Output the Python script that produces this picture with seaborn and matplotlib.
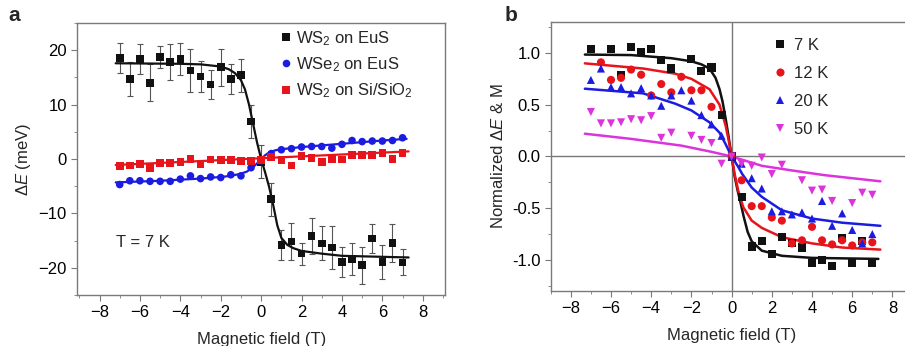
import numpy as np
import pandas as pd
import matplotlib
matplotlib.use("Agg")
import matplotlib.pyplot as plt
import seaborn as sns
from matplotlib.ticker import MultipleLocator

# ---- panel a data ----
field_a = [-7, -6.5, -6, -5.5, -5, -4.5, -4, -3.5, -3, -2.5, -2, -1.5, -1, -0.5, 0,
           0.5, 1, 1.5, 2, 2.5, 3, 3.5, 4, 4.5, 5, 5.5, 6, 6.5, 7]
ws2_eus = [18.6, 14.7, 18.4, 14.0, 18.8, 17.8, 18.4, 16.3, 15.2, 13.7, 16.9, 14.7, 15.4, 6.9, -0.5,
           -7.4, -15.8, -15.2, -17.4, -14.1, -15.5, -16.3, -18.9, -18.4, -19.5, -14.6, -18.9, -15.4, -19.0]
ws2_eus_err = [2.8, 3.2, 2.8, 3.4, 2.0, 3.3, 3.0, 3.9, 2.9, 2.7, 3.4, 2.7, 3.0, 3.1, 3.0,
               3.0, 2.8, 3.4, 2.0, 3.3, 3.1, 3.9, 2.8, 3.0, 3.4, 2.7, 3.1, 3.5, 2.4]
wse2_eus = [-4.7, -4.0, -4.0, -4.1, -4.1, -4.1, -3.7, -3.1, -3.6, -3.3, -3.4, -2.9, -3.1, -1.6, -0.3,
            1.0, 1.7, 1.9, 2.2, 2.3, 2.3, 2.0, 2.7, 3.4, 3.2, 3.3, 3.3, 3.4, 3.9]
ws2_sio2 = [-1.3, -1.2, -0.9, -1.6, -0.7, -0.7, -0.5, 0.05, -0.9, -0.1, -0.2, -0.2, -0.4, -0.4, -0.2,
            0.4, -0.2, -1.2, 0.55, 0.2, -0.6, 0.05, -0.1, 0.7, 0.7, 0.7, 1.1, 0.05, 1.1]

# fit curves
fit_ws2_x = [-7.2, -4, -3, -2, -1.6, -1.3, -1.0, -0.8, -0.6, -0.4, -0.2, 0,
             0.2, 0.4, 0.6, 0.8, 1.0, 1.3, 1.6, 2, 3, 4, 7.3]
fit_ws2_y = [17.6, 17.5, 17.4, 17.0, 16.5, 15.8, 14.5, 12.8, 10.0, 6.5, 3.0, 0,
             -2.5, -5.2, -8.5, -12.2, -14.5, -15.8, -16.4, -16.9, -17.4, -17.8, -18.1]
fit_wse2_x = [-7.2, -5, -3, -2, -1.5, -1, -0.7, -0.4, -0.2, 0, 0.2, 0.4, 0.7, 1, 1.5, 2, 3, 4, 5, 6, 7.2]
fit_wse2_y = [-4.3, -4.0, -3.6, -3.3, -3.1, -2.7, -2.3, -1.5, -0.8, 0, 0.7, 1.2, 1.6, 1.8, 2.0, 2.2, 2.5, 2.8, 3.1, 3.4, 3.7]
fit_sio2_x = [-7.2, 7.3]
fit_sio2_y = [-1.1, 1.4]

# ---- panel b data ----
x_7k = [-7, -6, -5.5, -5, -4.5, -4, -3.5, -3, -2, -1.5, -1, -0.5, 0,
        0.5, 1, 1.5, 2, 2.5, 3, 3.5, 4, 4.5, 5, 5.5, 6, 6.5, 7]
y_7k = [1.035, 1.035, 0.79, 1.06, 1.01, 1.035, 0.93, 0.85, 0.945, 0.83, 0.86, 0.40, 0,
        -0.39, -0.87, -0.82, -0.94, -0.78, -0.84, -0.88, -1.03, -1.0, -1.06, -0.79, -1.03, -0.82, -1.03]
x_12k = [-6.5, -6, -5.5, -5, -4.5, -4, -3.5, -3, -2.5, -2, -1.5, -1, 0,
         0.5, 1, 1.5, 2, 2.5, 3, 3.5, 4, 4.5, 5, 5.5, 6, 6.5, 7]
y_12k = [0.91, 0.74, 0.76, 0.84, 0.79, 0.59, 0.70, 0.62, 0.77, 0.64, 0.64, 0.48, 0,
         -0.23, -0.48, -0.48, -0.59, -0.62, -0.84, -0.81, -0.68, -0.81, -0.85, -0.81, -0.86, -0.83, -0.83]
x_20k = [-7, -6.5, -6, -5.5, -5, -4.5, -4, -3.5, -3, -2.5, -2, -1.5, -1, -0.5, 0,
         0.5, 1, 1.5, 2, 2.5, 3, 3.5, 4, 4.5, 5, 5.5, 6, 6.5, 7]
y_20k = [0.74, 0.85, 0.67, 0.67, 0.61, 0.66, 0.59, 0.49, 0.59, 0.64, 0.54, 0.40, 0.31, 0.20, 0,
         -0.07, -0.21, -0.31, -0.53, -0.53, -0.56, -0.54, -0.60, -0.43, -0.67, -0.55, -0.71, -0.84, -0.75]
x_50k = [-7, -6.5, -6, -5.5, -5, -4.5, -4, -3.5, -3, -2, -1.5, -1, -0.5, 0,
         0.5, 1, 1.5, 2, 2.5, 3.5, 4, 4.5, 5, 6, 6.5, 7]
y_50k = [0.43, 0.32, 0.32, 0.33, 0.36, 0.35, 0.39, 0.18, 0.23, 0.20, 0.16, 0.13, -0.07, 0,
         -0.07, -0.09, -0.01, -0.17, -0.08, -0.23, -0.33, -0.32, -0.43, -0.45, -0.35, -0.37]

fit_7k_x = [-7.3, -5, -3, -2, -1.5, -1.1, -0.8, -0.6, -0.45, -0.3, -0.15, 0,
            0.15, 0.3, 0.45, 0.6, 0.8, 1.0, 1.5, 2.5, 4, 7.3]
fit_7k_y = [0.985, 0.98, 0.95, 0.92, 0.89, 0.85, 0.76, 0.65, 0.53, 0.37, 0.19, 0,
            -0.19, -0.33, -0.45, -0.58, -0.73, -0.82, -0.91, -0.96, -0.98, -0.99]
fit_12k_x = [-7.3, -4.4, -2.8, -2, -1.1, -0.6, -0.3, -0.15, 0, 0.15, 0.33, 0.58, 1.0, 1.5, 2.5, 4, 5.5, 7.4]
fit_12k_y = [0.90, 0.85, 0.80, 0.75, 0.65, 0.50, 0.30, 0.16, 0, -0.17, -0.33, -0.49, -0.62, -0.69, -0.78, -0.84, -0.88, -0.90]
fit_20k_x = [-7.3, -4.4, -2.8, -2, -1.1, -0.6, -0.3, 0, 0.33, 0.53, 1.0, 1.5, 2.5, 4, 5.5, 7.4]
fit_20k_y = [0.655, 0.61, 0.51, 0.445, 0.33, 0.23, 0.12, 0, -0.10, -0.17, -0.30, -0.39, -0.52, -0.60, -0.64, -0.67]
fit_50k_x = [-7.3, -5, -2.5, -1, 0, 1.5, 3, 4.6, 7.4]
fit_50k_y = [0.22, 0.17, 0.105, 0.045, 0, -0.09, -0.135, -0.18, -0.24]

# ---- style ----
sns.set_style("ticks")
plt.rcParams['font.family'] = ['Liberation Sans', 'DejaVu Sans']
plt.rcParams['mathtext.fontset'] = 'custom'
plt.rcParams['mathtext.rm'] = 'Liberation Sans'
plt.rcParams['mathtext.it'] = 'Liberation Sans:italic'
plt.rcParams['font.size'] = 12

BLACK, BLUE, RED, MAG = "#111111", "#1c1ce0", "#e8141c", "#dd33dd"
SPINE = "#7a7a7a"

fig = plt.figure(figsize=(9.05, 3.46), dpi=100)
ax_a = fig.add_axes([0.0854, 0.1474, 0.4063, 0.7861])
ax_b = fig.add_axes([0.6085, 0.159, 0.3998, 0.7775])

# ---- panel a ----
lab_a = ["WS$_2$ on EuS", "WSe$_2$ on EuS", "WS$_2$ on Si/SiO$_2$"]
df_a = pd.concat([
    pd.DataFrame({"field": field_a, "dE": ws2_eus, "sample": lab_a[0]}),
    pd.DataFrame({"field": field_a, "dE": wse2_eus, "sample": lab_a[1]}),
    pd.DataFrame({"field": field_a, "dE": ws2_sio2, "sample": lab_a[2]}),
])
fit_a = pd.concat([
    pd.DataFrame({"field": fit_ws2_x, "dE": fit_ws2_y, "sample": lab_a[0]}),
    pd.DataFrame({"field": fit_wse2_x, "dE": fit_wse2_y, "sample": lab_a[1]}),
    pd.DataFrame({"field": fit_sio2_x, "dE": fit_sio2_y, "sample": lab_a[2]}),
])
pal_a = dict(zip(lab_a, [BLACK, BLUE, RED]))
mk_a = dict(zip(lab_a, ["s", "o", "s"]))

ax_a.errorbar(field_a, ws2_eus, yerr=ws2_eus_err, fmt="none", ecolor="#555555",
              elinewidth=0.8, capsize=2.5, capthick=0.8, zorder=1)
sns.lineplot(data=fit_a, x="field", y="dE", hue="sample", palette=pal_a, sort=False,
             estimator=None, linewidth=1.6, legend=False, ax=ax_a, zorder=2)
sns.scatterplot(data=df_a, x="field", y="dE", hue="sample", style="sample", palette=pal_a,
                markers=mk_a, s=30, linewidth=0, ax=ax_a, zorder=3)

ax_a.set_xlim(-9.1, 9.1)
ax_a.set_ylim(-25, 25)
ax_a.xaxis.set_major_locator(MultipleLocator(2))
ax_a.xaxis.set_minor_locator(MultipleLocator(1))
ax_a.yaxis.set_major_locator(MultipleLocator(10))
ax_a.yaxis.set_minor_locator(MultipleLocator(5))
ax_a.set_xlabel("Magnetic field (T)", labelpad=8)
ax_a.set_ylabel(r"$\Delta E$ (meV)", labelpad=4)
ax_a.text(-7.2, -15.4, "T = 7 K", ha="left", va="center", fontsize=12)
ax_a.legend(loc="upper left", bbox_to_anchor=(0.546, 0.978), frameon=False, fontsize=12,
            handletextpad=0.1, labelspacing=0.45, handlelength=1.0, borderpad=0, borderaxespad=0)

# ---- panel b ----
lab_b = ["7 K", "12 K", "20 K", "50 K"]
df_b = pd.concat([
    pd.DataFrame({"field": x_7k, "norm": y_7k, "temp": lab_b[0]}),
    pd.DataFrame({"field": x_12k, "norm": y_12k, "temp": lab_b[1]}),
    pd.DataFrame({"field": x_20k, "norm": y_20k, "temp": lab_b[2]}),
    pd.DataFrame({"field": x_50k, "norm": y_50k, "temp": lab_b[3]}),
])
fit_b = pd.concat([
    pd.DataFrame({"field": fit_7k_x, "norm": fit_7k_y, "temp": lab_b[0]}),
    pd.DataFrame({"field": fit_12k_x, "norm": fit_12k_y, "temp": lab_b[1]}),
    pd.DataFrame({"field": fit_20k_x, "norm": fit_20k_y, "temp": lab_b[2]}),
    pd.DataFrame({"field": fit_50k_x, "norm": fit_50k_y, "temp": lab_b[3]}),
])
pal_b = dict(zip(lab_b, [BLACK, RED, BLUE, MAG]))
mk_b = dict(zip(lab_b, ["s", "o", "^", "v"]))

ax_b.axhline(0, color="#777777", linewidth=1.0, zorder=0)
ax_b.axvline(0, color="#777777", linewidth=1.0, zorder=0)
sns.lineplot(data=fit_b, x="field", y="norm", hue="temp", palette=pal_b, sort=False,
             estimator=None, linewidth=1.8, legend=False, ax=ax_b, zorder=2)
sns.scatterplot(data=df_b, x="field", y="norm", hue="temp", style="temp", palette=pal_b,
                markers=mk_b, s=34, linewidth=0, ax=ax_b, zorder=3)

ax_b.set_xlim(-9, 9)
ax_b.set_ylim(-1.3, 1.3)
ax_b.xaxis.set_major_locator(MultipleLocator(2))
ax_b.xaxis.set_minor_locator(MultipleLocator(1))
ax_b.yaxis.set_major_locator(MultipleLocator(0.5))
ax_b.yaxis.set_minor_locator(MultipleLocator(0.25))
ax_b.yaxis.set_major_formatter(matplotlib.ticker.FormatStrFormatter("%.1f"))
ax_b.set_xlabel("Magnetic field (T)", labelpad=8)
ax_b.set_ylabel(r"Normalized $\Delta E$ & M", labelpad=4)
ax_b.legend(loc="upper left", bbox_to_anchor=(0.612, 0.94), frameon=False, fontsize=12,
            handletextpad=0.3, labelspacing=0.78, handlelength=1.0, borderpad=0, borderaxespad=0)

for ax in (ax_a, ax_b):
    for sp in ax.spines.values():
        sp.set_visible(True)
        sp.set_color(SPINE)
        sp.set_linewidth(1.0)
    ax.tick_params(which="both", direction="out", color=SPINE, labelsize=12, labelcolor="black")
    ax.tick_params(which="major", length=4)
    ax.tick_params(which="minor", length=2.5)

fig.text(0.009, 0.955, "a", fontsize=15, fontweight="bold", va="center")
fig.text(0.558, 0.955, "b", fontsize=15, fontweight="bold", va="center")

fig.savefig("out.png", dpi=100)
